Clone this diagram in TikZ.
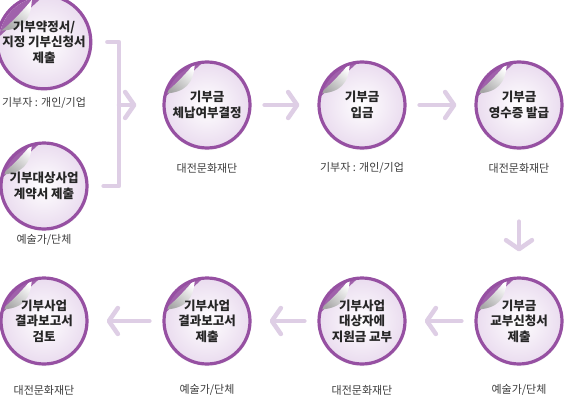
\documentclass[tikz,border=0pt]{standalone}
\usepackage{fontspec}
\usepackage{xcolor}
\usepackage{tikz}
\usetikzlibrary{arrows.meta, shadows}
\newfontfamily\krfont{Noto Sans CJK KR}
\definecolor{stkpurple}{RGB}{150,80,162}
\definecolor{stklav}{RGB}{234,220,239}
\definecolor{arrlav}{RGB}{222,206,229}
\definecolor{lblgray}{RGB}{60,60,60}
\newcommand{\stickercurl}{%
  \fill[stkpurple!90] ([shift={(173:45pt)}]path picture bounding box.center) arc[start angle=173, end angle=92, radius=45pt] -- cycle;
  \shade[top color=white, bottom color=black!35, shading angle=-40] ([shift={(165:44pt)}]path picture bounding box.center) .. controls ([shift={(150:25pt)}]path picture bounding box.center) and ([shift={(122:25pt)}]path picture bounding box.center) .. ([shift={(106:44pt)}]path picture bounding box.center) .. controls ([shift={(122:38pt)}]path picture bounding box.center) and ([shift={(150:38pt)}]path picture bounding box.center) .. cycle;}
\tikzstyle{sticker} = [circle, minimum size=86pt, inner sep=0pt, draw=stkpurple, line width=3.2pt, inner color=white, outer color=stklav, align=center, text=black!85, font=\krfont\bfseries\fontsize{12.5}{15.5}\selectfont, circular drop shadow={shadow xshift=0pt, shadow yshift=-1pt, shadow scale=1.04, opacity=0.2}, path picture={\stickercurl}]
\tikzstyle{lbl} = [font=\krfont\fontsize{11}{13}\selectfont, text=lblgray]
\tikzstyle{arrow} = [line width=4.5pt, draw=arrlav, line cap=round, line join=round, -{Straight Barb[length=9pt, width=26pt, round]}]
\tikzstyle{bar} = [line width=4.5pt, draw=arrlav, line cap=round, line join=round]

\begin{document}
\begin{tikzpicture}[x=1pt, y=1pt]
    \useasboundingbox (0,0) rectangle (570,400);
    \node[sticker] (c1) at (44,358) {기부약정서/\\지정 기부신청서\\제출};
    \node[sticker] (c2) at (44,214) {기부대상사업\\계약서 제출};
    \node[sticker] (c3) at (207,295) {기부금\\체납여부결정};
    \node[sticker] (c4) at (362,295) {기부금\\입금};
    \node[sticker] (c5) at (519,295) {기부금\\영수증 발급};
    \node[sticker] (c6) at (519,79) {기부금\\교부신청서\\제출};
    \node[sticker] (c7) at (362,79) {기부사업\\대상자에\\지원금 교부};
    \node[sticker] (c8) at (207,79) {기부사업\\결과보고서\\제출};
    \node[sticker] (c9) at (44,79) {기부사업\\결과보고서\\검토};
    \node[lbl] (l1) at (44,297) {기부자 : 개인/기업};
    \node[lbl] (l2) at (44,160) {예술가/단체};
    \node[lbl] (l3) at (207,232) {대전문화재단};
    \node[lbl] (l4) at (362,232) {기부자 : 개인/기업};
    \node[lbl] (l5) at (519,232) {대전문화재단};
    \node[lbl] (l6) at (519,10) {예술가/단체};
    \node[lbl] (l7) at (362,10) {대전문화재단};
    \node[lbl] (l8) at (207,10) {예술가/단체};
    \node[lbl] (l9) at (44,10) {대전문화재단};
    \coordinate (br) at (119,295);
    \draw[bar] ([xshift=15pt]c1.east) -| (br) |- ([xshift=15pt]c2.east);
    \draw[arrow, shorten >=26pt] (br) -- (c3);
    \draw[arrow, shorten <=13pt, shorten >=18pt] (c3) -- (c4);
    \draw[arrow, shorten <=13pt, shorten >=18pt] (c4) -- (c5);
    \draw[arrow, shorten <=72pt, shorten >=25pt] (c5) -- (c6);
    \draw[arrow, shorten <=13pt, shorten >=18pt] (c6) -- (c7);
    \draw[arrow, shorten <=13pt, shorten >=18pt] (c7) -- (c8);
    \draw[arrow, shorten <=13pt, shorten >=18pt] (c8) -- (c9);
\end{tikzpicture}
\end{document}
